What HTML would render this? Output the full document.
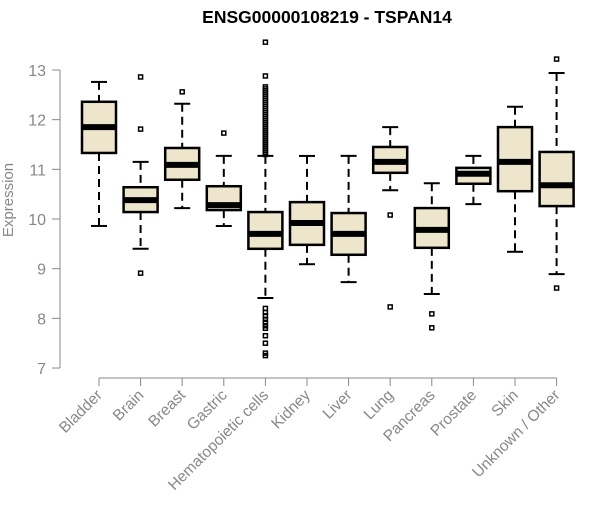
<!DOCTYPE html>
<html><head><meta charset="utf-8"><style>
body{margin:0;background:#fff}
svg text{font-family:"Liberation Sans",sans-serif}
</style></head><body>
<svg id="chart" width="600" height="500">
<text x="327" y="23" text-anchor="middle" font-size="17.5" font-weight="bold">ENSG00000108219 - TSPAN14</text>
<text transform="translate(13,200) rotate(-90)" text-anchor="middle" font-size="15" fill="#888">Expression</text>
<g id="g"></g>
</svg>
<script>
const categories=["Bladder","Brain","Breast","Gastric","Hematopoietic cells","Kidney","Liver","Lung","Pancreas","Prostate","Skin","Unknown / Other"];
const whiskerHigh=[12.76,11.15,12.32,11.27,11.27,11.27,11.27,11.85,10.72,11.27,12.26,12.94];
const q3=[12.36,10.64,11.43,10.66,10.14,10.34,10.12,11.45,10.22,11.03,11.85,11.35];
const medians=[11.85,10.38,11.09,10.28,9.70,9.92,9.70,11.15,9.78,10.91,11.15,10.68];
const q1=[11.33,10.14,10.79,10.18,9.40,9.48,9.28,10.93,9.42,10.71,10.56,10.26];
const whiskerLow=[9.86,9.40,10.22,9.86,8.41,9.09,8.73,10.58,8.49,10.30,9.34,8.89];
const outliers=[[],[12.86,11.81,8.91],[12.56],[11.73],
[13.56,12.88,12.66,12.62,12.58,12.54,12.5,12.46,12.42,12.38,12.34,12.3,12.26,12.22,12.18,12.14,12.1,12.06,12.02,11.98,11.94,11.9,11.86,11.82,11.78,11.74,11.7,11.66,11.62,11.58,11.54,11.5,11.46,11.42,11.38,11.34,11.3,8.2,8.12,8.05,7.98,7.92,7.85,7.8,7.65,7.5,7.3,7.25],
[],[],[10.08,8.23],[8.09,7.81],[],[],[13.22,8.61]];
const yTicks=[7,8,9,10,11,12,13];
const NS="http://www.w3.org/2000/svg";
const g=document.getElementById('g');
const y=v=>70+(13-v)*49.67;
const x=i=>99+i*41.6;
function el(t,a){const e=document.createElementNS(NS,t);for(const k in a)e.setAttribute(k,a[k]);g.appendChild(e);return e;}
let e=el('line',{x1:60,x2:60,y1:y(13),y2:y(7),stroke:'#888'});


yTicks.forEach(t=>{
 let l=el('line',{x1:52,x2:60,y1:y(t),y2:y(t),stroke:'#888'});
 
 
 let tx=el('text',{x:46,y:y(t)+6,'text-anchor':'end','font-size':16,fill:'#888'});tx.textContent=t;
 
 
});
e=el('line',{x1:x(0),x2:x(11),y1:378,y2:378,stroke:'#888'});


categories.forEach((c,i)=>{
 const cx=x(i);
 let l=el('line',{x1:cx,x2:cx,y1:378,y2:386,stroke:'#888'});
 
 
 let tx=el('text',{transform:`translate(${cx+4},${396}) rotate(-45)`,'text-anchor':'end','font-size':15.5,fill:'#888'});tx.textContent=c;
 
 
 let w=el('line',{x1:cx,x2:cx,y1:y(whiskerHigh[i]),y2:y(q3[i]),stroke:'#000','stroke-width':2,'stroke-dasharray':'8,5'});
 
 
 w=el('line',{x1:cx,x2:cx,y1:y(q1[i]),y2:y(whiskerLow[i]),stroke:'#000','stroke-width':2,'stroke-dasharray':'8,5'});
 
 
 [whiskerHigh[i],whiskerLow[i]].forEach(v=>{let c2=el('line',{x1:cx-8,x2:cx+8,y1:y(v),y2:y(v),stroke:'#000','stroke-width':2});
  
  });
 let b=el('rect',{x:cx-17,y:y(q3[i]),width:34,height:y(q1[i])-y(q3[i]),fill:'#ede6cc',stroke:'#000','stroke-width':2.5});
 
 
 let m=el('line',{x1:cx-17,x2:cx+17,y1:y(medians[i]),y2:y(medians[i]),stroke:'#000','stroke-width':6});
 
 
 outliers[i].forEach(v=>{let o=el('rect',{x:cx-2,y:y(v)-2,width:4,height:4,fill:'none',stroke:'#000','stroke-width':1.5});
  
  });
});
</script>
</body></html>
